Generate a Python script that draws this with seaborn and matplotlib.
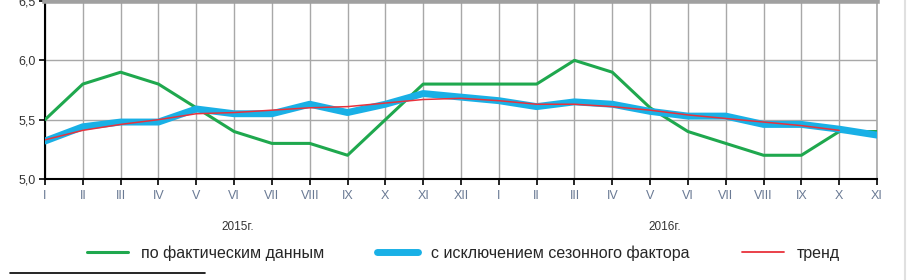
import matplotlib
matplotlib.use("Agg")
import matplotlib.pyplot as plt
from matplotlib.lines import Line2D
import pandas as pd
import seaborn as sns

months = ["I", "II", "III", "IV", "V", "VI", "VII", "VIII", "IX", "X", "XI", "XII",
          "I", "II", "III", "IV", "V", "VI", "VII", "VIII", "IX", "X", "XI"]
fact = [5.5, 5.8, 5.9, 5.8, 5.6, 5.4, 5.3, 5.3, 5.2, 5.5, 5.8, 5.8,
        5.8, 5.8, 6.0, 5.9, 5.6, 5.4, 5.3, 5.2, 5.2, 5.4, 5.4]
seas_adj = [5.32, 5.44, 5.48, 5.48, 5.59, 5.55, 5.55, 5.63, 5.56, 5.63, 5.72, 5.69,
            5.66, 5.61, 5.65, 5.63, 5.57, 5.53, 5.53, 5.46, 5.46, 5.42, 5.37]
trend = [5.33, 5.41, 5.46, 5.50, 5.55, 5.56, 5.58, 5.60, 5.61, 5.64, 5.67, 5.68,
         5.66, 5.63, 5.63, 5.61, 5.58, 5.54, 5.51, 5.48, 5.45, 5.41, None]
yticks = [5.0, 5.5, 6.0, 6.5]
ytick_labels = ["5,0", "5,5", "6,0", "6,5"]

df = pd.DataFrame({"idx": range(len(months)), "fact": fact,
                   "seas": seas_adj, "trend": trend})

sns.set_style("white")
plt.rcParams["font.family"] = ["Liberation Sans", "DejaVu Sans"]

fig = plt.figure(figsize=(9.1, 2.8), dpi=100)
ax = fig.add_axes([45 / 910, 1 - 179 / 280, (877 - 45) / 910, 178 / 280])

green = "#1fa84e"
blue = "#19b0e6"
red = "#e8323c"

sns.lineplot(data=df, x="idx", y="fact", ax=ax, color=green, linewidth=2.2, zorder=3)
sns.lineplot(data=df, x="idx", y="seas", ax=ax, color=blue, linewidth=5, zorder=4)
sns.lineplot(data=df.dropna(), x="idx", y="trend", ax=ax, color=red, linewidth=1.1, zorder=5)

ax.set_xlim(0, len(months) - 1)
ax.set_ylim(5.0, 6.5)
ax.set_yticks(yticks)
ax.set_yticklabels(ytick_labels, fontsize=9, color="#333333")
ax.set_xticks(range(len(months)))
ax.set_xticklabels(months, fontsize=9, color="#6a7a94")
ax.set_xlabel("")
ax.set_ylabel("")
ax.grid(True, color="#a8a8a8", linewidth=1)
ax.set_axisbelow(True)
ax.tick_params(axis="x", bottom=True, length=4, width=1.2, color="black", pad=4)
ax.tick_params(axis="y", left=True, length=4, width=1.2, color="black", pad=3)

for s in ["left", "bottom"]:
    ax.spines[s].set_color("black")
    ax.spines[s].set_linewidth(1.5)
ax.spines["right"].set_color("#a8a8a8")
ax.spines["right"].set_linewidth(1.2)
ax.spines["top"].set_color("#a0a0a0")
ax.spines["top"].set_linewidth(4)

ax.text(5.1, -0.27, "2015г.", transform=ax.get_xaxis_transform(),
        ha="center", va="center", fontsize=8.5, color="#333333")
ax.text(16.4, -0.27, "2016г.", transform=ax.get_xaxis_transform(),
        ha="center", va="center", fontsize=8.5, color="#333333")

handles = [Line2D([], [], color=green, linewidth=2.2),
           Line2D([], [], color=blue, linewidth=5),
           Line2D([], [], color=red, linewidth=1.3)]
labels = ["по фактическим данным", "с исключением сезонного фактора", "тренд"]
fig.legend(handles, labels, loc="center", bbox_to_anchor=(0.509, 1 - 253 / 280),
           ncol=3, frameon=False, fontsize=11.5, handlelength=2.6,
           columnspacing=3.3, handletextpad=0.8)

fig.add_artist(Line2D([10 / 910, 205 / 910], [1 - 273 / 280, 1 - 273 / 280],
                      color="black", linewidth=1.2))
fig.add_artist(Line2D([905 / 910, 905 / 910], [0, 1], color="#e0e0e0", linewidth=1.5))

fig.savefig("out.png", dpi=100)
